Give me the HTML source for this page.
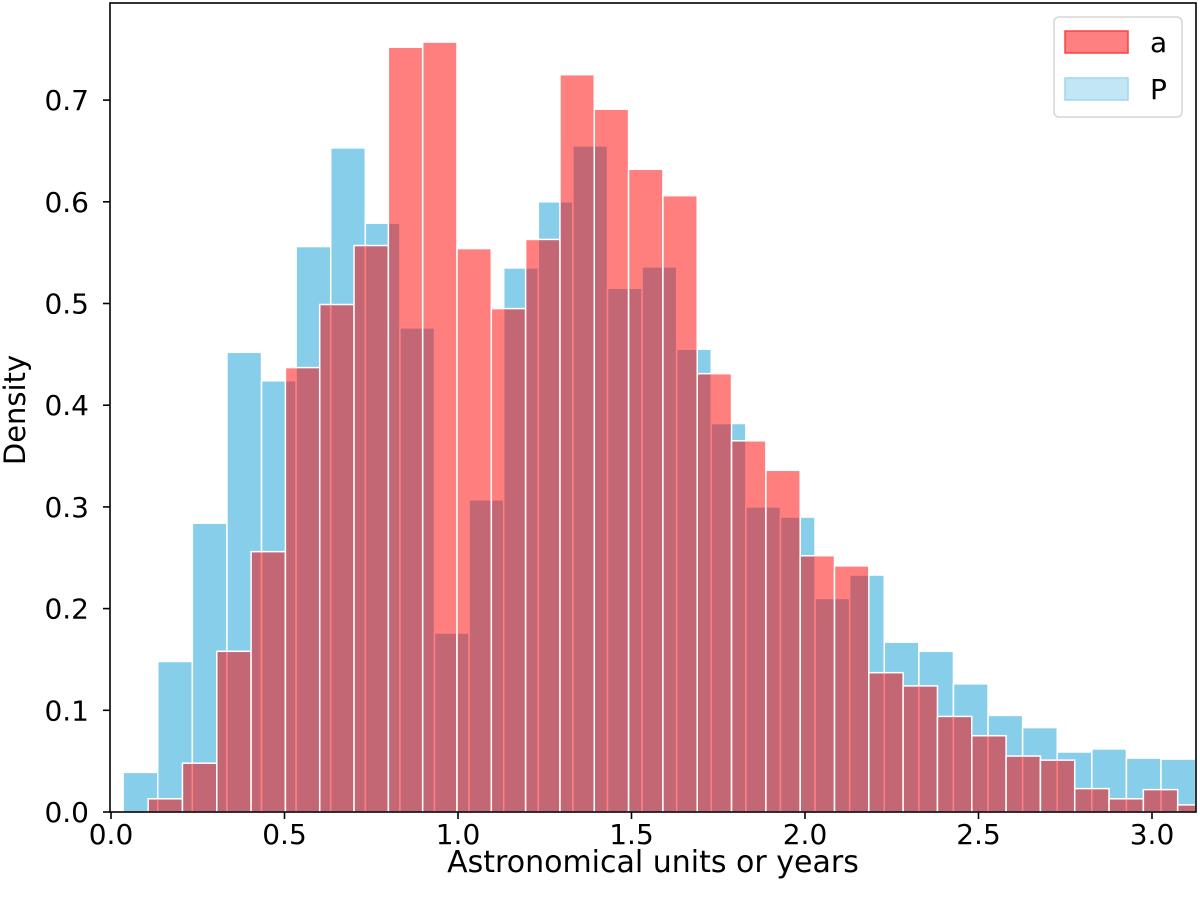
<!DOCTYPE html>
<html><head><meta charset="utf-8"><style>
html,body{margin:0;padding:0;background:#fff;}
svg{display:block;font-family:"DejaVu Sans","Liberation Sans",sans-serif;}
</style></head><body>
<svg id="chart" width="1200" height="907">
<g id="bars-p"></g>
<g id="bars-a"></g>
<g id="axes"></g>
<text x="653" y="872" font-size="30" text-anchor="middle" fill="#000">Astronomical units or years</text>
<text transform="translate(25,410) rotate(-90)" font-size="29" text-anchor="middle" fill="#000">Density</text>
<g>
<rect x="1054" y="17" width="128" height="100" rx="5" fill="#fff" fill-opacity="0.8" stroke="#d6d6d6" stroke-width="1.5"/>
<rect x="1065" y="31" width="63" height="22" fill="#ff8080" stroke="#ff4040" stroke-width="1.5"/>
<text x="1150" y="52" font-size="28">a</text>
<rect x="1065" y="78" width="63" height="22" fill="#c3e6f5" stroke="#9fd6ee" stroke-width="1.5"/>
<text x="1150" y="99" font-size="28">P</text>
</g>
</svg>
<script>
const aStart = 0.107, aWidth = 0.0989;
const aValues = [0.013,0.048,0.158,0.256,0.437,0.499,0.557,0.752,0.757,0.554,0.495,0.563,0.725,0.691,0.632,0.606,0.431,0.365,0.336,0.252,0.242,0.137,0.124,0.094,0.075,0.055,0.051,0.023,0.013,0.022,0.007];
const pStart = 0.035, pWidth = 0.0997;
const pValues = [0.039,0.148,0.284,0.452,0.424,0.556,0.653,0.579,0.476,0.176,0.307,0.535,0.600,0.655,0.515,0.536,0.455,0.382,0.300,0.290,0.210,0.233,0.167,0.158,0.126,0.095,0.083,0.059,0.062,0.053,0.052];
const xTicks = [0.0,0.5,1.0,1.5,2.0,2.5,3.0];
const xTickLabels = ["0.0","0.5","1.0","1.5","2.0","2.5","3.0"];
const yTicks = [0,0.1,0.2,0.3,0.4,0.5,0.6,0.7];
const yTickLabels = ["0.0","0.1","0.2","0.3","0.4","0.5","0.6","0.7"];

const L=110,R=1196,T=3,B=812;
const xs = v => 111 + v*347;
const ys = v => 812 - v*1017;
const NS='http://www.w3.org/2000/svg';
function mk(tag,attrs,parent){const e=document.createElementNS(NS,tag);for(const k in attrs)e.setAttribute(k,attrs[k]);parent.appendChild(e);return e;}

function drawBars(gid,start,w,vals,fill,name){
  const g=document.getElementById(gid);
  vals.forEach((v,i)=>{
    const x0=xs(start+i*w); let x1=xs(start+(i+1)*w);
    if(x1>R) x1=R;
    const r=mk('rect',{x:x0,y:ys(v),width:Math.max(0,x1-x0),height:B-ys(v),fill:fill,stroke:'#fff','stroke-width':1.5},g);
    
    
  });
}
drawBars('bars-p',pStart,pWidth,pValues,'#87ceeb','bar-p');
drawBars('bars-a',aStart,aWidth,aValues,'rgba(255,0,0,0.5)','bar-a');

const ax=document.getElementById('axes');
const frame=mk('rect',{x:L,y:T,width:R-L,height:B-T,fill:'none',stroke:'#000','stroke-width':1.6},ax);


xTicks.forEach((t,i)=>{
  const x=xs(t);
  mk('line',{x1:x,x2:x,y1:B,y2:B+7,stroke:'#000','stroke-width':1.6},ax);
  const tx=mk('text',{x:x,y:B+32,'font-size':28,'text-anchor':'middle'},ax);
  tx.textContent=xTickLabels[i];
  
  
});
yTicks.forEach((t,i)=>{
  const y=ys(t);
  mk('line',{x1:L-7,x2:L,y1:y,y2:y,stroke:'#000','stroke-width':1.6},ax);
  const tx=mk('text',{x:L-21,y:y+10,'font-size':28,'text-anchor':'end'},ax);
  tx.textContent=yTickLabels[i];
  
  
});
</script>
</body></html>
